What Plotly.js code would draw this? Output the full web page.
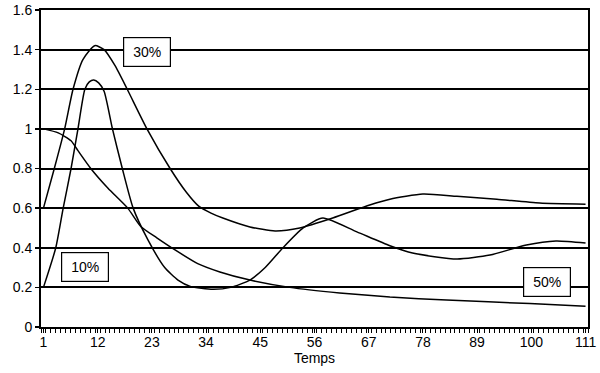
<!DOCTYPE html>
<html>
<head>
<meta charset="utf-8">
<script src="https://cdn.plot.ly/plotly-3.0.1.min.js"></script>
<style>
  html, body { margin: 0; padding: 0; background: #fff; }
  #chart { width: 600px; height: 373px; }
</style>
</head>
<body>
<div id="chart"></div>
<script>
// Response curves over time, one per concentration
const xTickVals = [1, 12, 23, 34, 45, 56, 67, 78, 89, 100, 111];
const xTickText = ["1", "12", "23", "34", "45", "56", "67", "78", "89", "100", "111"];

const x10 = [1, 3.5, 5, 6.6, 8, 9.4, 10.3, 11.2, 12.2, 13.3, 15, 17, 19.2, 22.2, 25.6, 28.3, 30.8, 35.4, 39, 42.9, 46, 49.6, 53.7, 57.7, 64.6, 71.3, 75.9, 84.9, 91.6, 99, 105, 111];
const y10 = [0.20, 0.40, 0.60, 0.80, 1.00, 1.20, 1.237, 1.247, 1.232, 1.19, 1.00, 0.80, 0.60, 0.44, 0.30, 0.237, 0.205, 0.19, 0.20, 0.237, 0.30, 0.40, 0.50, 0.55, 0.48, 0.41, 0.373, 0.343, 0.363, 0.414, 0.434, 0.424];

const x30 = [1, 3.2, 5.3, 7, 9, 11.4, 13.3, 15.5, 18, 22, 26.7, 30, 32.5, 35, 37.4, 42.9, 48, 53, 59.7, 67.2, 71.3, 78, 84.9, 93, 101.7, 111];
const y30 = [0.60, 0.80, 1.00, 1.20, 1.35, 1.42, 1.40, 1.32, 1.20, 1.00, 0.80, 0.68, 0.61, 0.575, 0.55, 0.505, 0.485, 0.50, 0.55, 0.616, 0.645, 0.671, 0.66, 0.645, 0.626, 0.62];

const x50 = [1, 4, 6.6, 8, 10.6, 14.1, 18.1, 20.8, 24, 27.7, 32.3, 36.8, 42.9, 51, 61.1, 71.3, 82.8, 99.7, 111];
const y50 = [1.00, 0.98, 0.94, 0.89, 0.80, 0.70, 0.60, 0.506, 0.45, 0.389, 0.32, 0.278, 0.237, 0.20, 0.172, 0.151, 0.136, 0.118, 0.105];

const seriesLabels = ["10%", "30%", "50%"];

const lineStyle = { color: "#000", width: 1.5, shape: "spline", smoothing: 0.6 };

const traces = [
  { x: x10, y: y10, name: seriesLabels[0], mode: "lines", line: lineStyle, hoverinfo: "skip" },
  { x: x30, y: y30, name: seriesLabels[1], mode: "lines", line: lineStyle, hoverinfo: "skip" },
  { x: x50, y: y50, name: seriesLabels[2], mode: "lines", line: lineStyle, hoverinfo: "skip" }
];

const font = { family: "Liberation Sans, Arial, sans-serif", size: 14, color: "#000" };

function boxLabel(text, x, y) {
  return {
    text: text, x: x, y: y, xref: "x", yref: "y", showarrow: false,
    font: font, bgcolor: "#fff", bordercolor: "#000", borderwidth: 1.2,
    borderpad: 1, width: 44, height: 26
  };
}

const layout = {
  width: 600, height: 373,
  margin: { l: 41, r: 12, t: 10, b: 46 },
  paper_bgcolor: "#fff", plot_bgcolor: "#fff",
  showlegend: false,
  font: font,
  xaxis: {
    range: [0.5, 111.5],
    tickmode: "array", tickvals: xTickVals, ticktext: xTickText,
    ticks: "outside", ticklen: 4, tickwidth: 1, tickcolor: "#000",
    minor: { tickmode: "linear", tick0: 0.5, dtick: 1, ticks: "outside", ticklen: 4, tickwidth: 1, tickcolor: "#000", showgrid: false },
    showgrid: false, zeroline: false,
    showline: true, linecolor: "#000", linewidth: 2, mirror: true,
    ticklabelstandoff: -3,
    tickfont: font,
    title: { text: "Temps", font: font, standoff: 2 }
  },
  yaxis: {
    range: [0, 1.6], dtick: 0.2, tick0: 0,
    ticks: "outside", ticklen: 4, tickwidth: 1.5, tickcolor: "#000",
    showgrid: true, gridcolor: "#000", gridwidth: 2,
    zeroline: false,
    showline: true, linecolor: "#000", linewidth: 2, mirror: true,
    tickfont: font
  },
  annotations: [
    boxLabel(seriesLabels[1], 22.0, 1.388),
    boxLabel(seriesLabels[0], 9.43, 0.303),
    boxLabel(seriesLabels[2], 103.1, 0.227)
  ]
};

Plotly.newPlot("chart", traces, layout, { staticPlot: true, displayModeBar: false });
</script>
</body>
</html>
